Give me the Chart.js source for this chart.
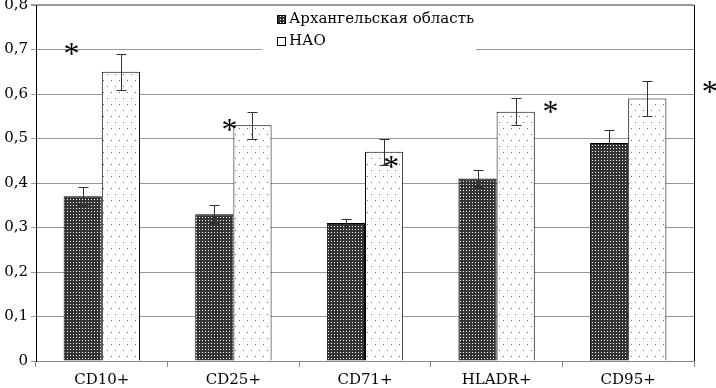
<!DOCTYPE html>
<html>
<head>
<meta charset="utf-8">
<script src="https://cdn.jsdelivr.net/npm/chart.js@4"></script>
<style>
  body { margin: 0; background: #fff; }
  canvas { display: block; }
</style>
</head>
<body>
<canvas id="chart" width="716" height="388"></canvas>
<script>
// ---- данные ----
const categories = ['CD10+', 'CD25+', 'CD71+', 'HLADR+', 'CD95+'];
const seriesNames = ['Архангельская область', 'НАО'];
const archValues = [0.37, 0.33, 0.31, 0.41, 0.49];
const archErrors = [0.02, 0.02, 0.01, 0.02, 0.03];
const naoValues = [0.65, 0.53, 0.47, 0.56, 0.59];
const naoErrors = [0.04, 0.03, 0.03, 0.03, 0.04];
// звёздочки (достоверные различия): уровень по оси Y и смещение в долях категории
const starValues = [0.70, 0.528, 0.445, 0.569, 0.613];
const starShift = [-0.23, -0.03, 0.2, 0.41, 0.62];

const FONT = 'DejaVu Serif';

// ---- штриховки ----
function makePattern(w, h, draw) {
  const c = document.createElement('canvas');
  c.width = w; c.height = h;
  const g = c.getContext('2d');
  draw(g);
  return c.getContext('2d').createPattern(c, 'repeat');
}
const darkFill = makePattern(3, 3, g => {
  g.fillStyle = '#333'; g.fillRect(0, 0, 3, 3);
  g.fillStyle = '#fff'; g.fillRect(1, 1, 1, 1);
});
const dotFill = makePattern(16, 12, g => {
  g.fillStyle = '#fff'; g.fillRect(0, 0, 16, 12);
  g.fillStyle = '#666';
  [[3, 2], [11, 2], [7, 8], [15, 8]].forEach(p => g.fillRect(p[0], p[1], 1, 1));
});

// планки погрешностей
const errorBars = {
  id: 'errorBars',
  afterDatasetsDraw(chart) {
    const ctx = chart.ctx;
    const y = chart.scales.y;
    const errs = [archErrors, naoErrors];
    ctx.save();
    ctx.strokeStyle = '#333';
    ctx.lineWidth = 1;
    chart.data.datasets.forEach((ds, di) => {
      chart.getDatasetMeta(di).data.forEach((bar, i) => {
        const x = Math.round(bar.x) + 0.5;
        const top = Math.round(y.getPixelForValue(ds.data[i] + errs[di][i])) + 0.5;
        const bot = Math.round(y.getPixelForValue(ds.data[i] - errs[di][i])) + 0.5;
        ctx.beginPath();
        ctx.moveTo(x, top); ctx.lineTo(x, bot);
        ctx.moveTo(x - 5, top); ctx.lineTo(x + 5, top);
        ctx.moveTo(x - 5, bot); ctx.lineTo(x + 5, bot);
        ctx.stroke();
      });
    });
    ctx.restore();
  }
};

// звёздочки, рамка справа и легенда
const extras = {
  id: 'extras',
  afterDraw(chart) {
    const ctx = chart.ctx;
    const { x, y } = chart.scales;
    const area = chart.chartArea;
    const step = (area.right - area.left) / categories.length;
    ctx.save();

    ctx.strokeStyle = '#000';
    ctx.lineWidth = 1;
    ctx.beginPath();
    ctx.moveTo(Math.round(area.right) + 0.5, area.top);
    ctx.lineTo(Math.round(area.right) + 0.5, area.bottom);
    ctx.stroke();

    ctx.fillStyle = '#000';
    ctx.font = '32px "Liberation Serif"';
    ctx.textAlign = 'center';
    ctx.textBaseline = 'alphabetic';
    starValues.forEach((v, i) => {
      const px = x.getPixelForValue(i) + starShift[i] * step;
      ctx.fillText('*', px, y.getPixelForValue(v) + 14);
    });

    // легенда
    ctx.fillStyle = '#fff';
    ctx.fillRect(262, 7, 214, 44);
    ctx.font = '15px "' + FONT + '"';
    ctx.textAlign = 'left';
    ctx.textBaseline = 'middle';
    const fills = [darkFill, '#fff'];
    seriesNames.forEach((name, i) => {
      const cy = 19 + i * 22;
      ctx.fillStyle = fills[i];
      ctx.fillRect(277, cy - 4, 8, 8);
      ctx.strokeStyle = '#000';
      ctx.strokeRect(277.5, cy - 3.5, 8, 8);
      ctx.fillStyle = '#000';
      ctx.fillText(name, 289, cy);
    });
    ctx.restore();
  }
};

new Chart(document.getElementById('chart'), {
  type: 'bar',
  data: {
    labels: categories,
    datasets: [
      { label: seriesNames[0], data: archValues, backgroundColor: darkFill,
        borderColor: '#000', borderWidth: 1 },
      { label: seriesNames[1], data: naoValues, backgroundColor: dotFill,
        borderColor: '#000', borderWidth: 1 }
    ]
  },
  options: {
    responsive: false,
    animation: false,
    categoryPercentage: 0.58,
    barPercentage: 1,
    layout: { padding: { top: 5, right: 22, left: 0, bottom: 0 } },
    plugins: { legend: { display: false }, tooltip: { enabled: false } },
    scales: {
      x: {
        grid: { offset: true, drawOnChartArea: false, tickLength: 6, color: '#888' },
        border: { color: '#888' },
        ticks: { color: '#000', padding: 4, font: { family: FONT, size: 15 } },
        afterFit(s) { s.height = 27; s.paddingLeft = 0; s.paddingRight = 0; }
      },
      y: {
        min: 0,
        max: 0.8,
        ticks: {
          stepSize: 0.1,
          color: '#000',
          padding: 3,
          font: { family: FONT, size: 15 },
          callback: v => v === 0 ? '0' : v.toFixed(1).replace('.', ',')
        },
        grid: {
          color: '#999',
          tickLength: 5,
          lineWidth: c => (c.tick && Math.abs(c.tick.value - 0.8) < 1e-6) ? 2 : 1
        },
        border: { color: '#000', width: 1 },
        afterFit(s) { s.width = 36; s.paddingTop = 0; s.paddingBottom = 0; }
      }
    }
  },
  plugins: [errorBars, extras]
});
</script>
</body>
</html>
